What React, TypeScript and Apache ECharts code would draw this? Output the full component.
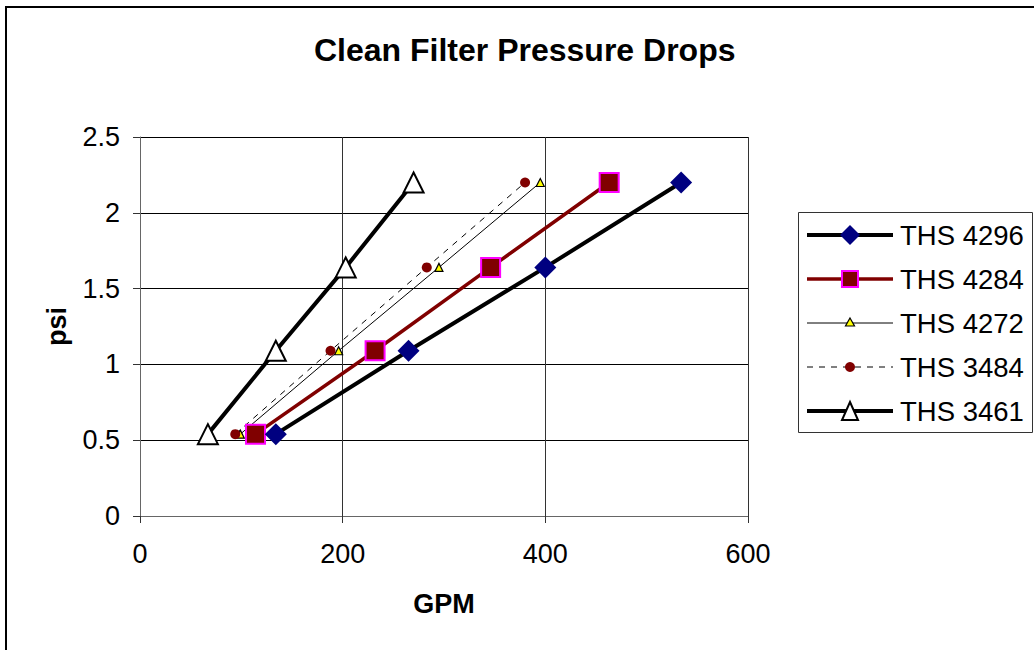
import React, { useEffect, useRef } from "react";
import * as echarts from "echarts";

const seriesNames = ["THS 4296", "THS 4284", "THS 4272", "THS 3484", "THS 3461"];
const psi = [0.54, 1.09, 1.64, 2.2];
const gpm4296 = [134, 265, 400, 534];
const gpm4284 = [114, 232, 346, 463];
const gpm4272 = [99, 196, 295, 395];
const gpm3484 = [94, 188, 283, 380];
const gpm3461 = [67, 134, 203, 270];
const xTicks = [0, 200, 400, 600];
const yTicks = [0, 0.5, 1, 1.5, 2, 2.5];

const pairs = (xs: number[]) => xs.map((x, i) => [x, psi[i]]);

// legend icon geometry (not data)
const LX0 = 807;
const LX1 = 893;
const LCX = 850;
const rowY = (i: number) => 235 + 44 * i;

function legendIcons() {
  const els: any[] = [];
  let y = rowY(0);
  els.push({ type: "line", shape: { x1: LX0, y1: y, x2: LX1, y2: y }, style: { stroke: "#000", lineWidth: 4 } });
  els.push({ type: "polygon", shape: { points: [[LCX, y - 10], [LCX + 10, y], [LCX, y + 10], [LCX - 10, y]] }, style: { fill: "#000080" } });
  y = rowY(1);
  els.push({ type: "line", shape: { x1: LX0, y1: y, x2: LX1, y2: y }, style: { stroke: "#800000", lineWidth: 3.5 } });
  els.push({ type: "rect", shape: { x: LCX - 8, y: y - 8, width: 16, height: 16 }, style: { fill: "#800000", stroke: "#ff00ff", lineWidth: 2 } });
  y = rowY(2);
  els.push({ type: "line", shape: { x1: LX0, y1: y, x2: LX1, y2: y }, style: { stroke: "#000", lineWidth: 1 } });
  els.push({ type: "polygon", shape: { points: [[LCX, y - 5], [LCX + 4.5, y + 3], [LCX - 4.5, y + 3]] }, style: { fill: "#ffff00", stroke: "#000", lineWidth: 1.2 } });
  y = rowY(3);
  els.push({ type: "line", shape: { x1: LX0, y1: y, x2: LX1, y2: y }, style: { stroke: "#000", lineWidth: 1, lineDash: [6, 6] } });
  els.push({ type: "circle", shape: { cx: LCX, cy: y, r: 5 }, style: { fill: "#800000" } });
  y = rowY(4);
  els.push({ type: "line", shape: { x1: LX0, y1: y, x2: LX1, y2: y }, style: { stroke: "#000", lineWidth: 4 } });
  els.push({ type: "polygon", shape: { points: [[LCX, y - 9], [LCX + 8, y + 9], [LCX - 8, y + 9]] }, style: { fill: "#fff", stroke: "#000", lineWidth: 2 } });
  return els.map((e) => ({ ...e, silent: true, z: 10 }));
}

export default function App() {
  const ref = useRef<HTMLDivElement>(null);
  useEffect(() => {
    document.body.style.margin = "0";
    const chart = echarts.init(ref.current!, null, { renderer: "svg" });
    const font = "'Liberation Sans', Arial, sans-serif";
    chart.setOption({
      animation: false,
      backgroundColor: "#fff",
      textStyle: { fontFamily: font },
      title: {
        text: "Clean Filter Pressure Drops",
        left: 314,
        top: 32,
        padding: 0,
        textStyle: { fontSize: 32, fontWeight: "bold", color: "#000", fontFamily: font, lineHeight: 36 },
      },
      graphic: [
        {
          type: "rect",
          shape: { x: 6, y: 7, width: 1040, height: 660 },
          style: { fill: "none", stroke: "#000", lineWidth: 2 },
          silent: true,
        },
        {
          type: "rect",
          shape: { x: 798.5, y: 212.5, width: 234, height: 220 },
          style: { fill: "none", stroke: "#333", lineWidth: 1 },
          silent: true,
        },
        ...legendIcons(),
      ],
      legend: {
        data: seriesNames.map((n) => ({
          name: n,
          icon: "rect",
          itemStyle: { color: "rgba(0,0,0,0)", borderWidth: 0 },
        })),
        orient: "vertical",
        left: LX0,
        top: 220,
        padding: 0,
        itemWidth: 86,
        itemHeight: 16,
        itemGap: 14,
        textStyle: { fontSize: 27.5, color: "#000", fontFamily: font, lineHeight: 30, padding: [0, 0, 0, 2] },
      },
      grid: { left: 140, top: 137, width: 608, height: 379, containLabel: false },
      xAxis: {
        type: "value",
        min: xTicks[0],
        max: xTicks[xTicks.length - 1],
        interval: 200,
        name: "GPM",
        nameLocation: "middle",
        nameGap: 74,
        nameTextStyle: { fontSize: 27, fontWeight: "bold", color: "#000", fontFamily: font },
        axisLine: { show: true, lineStyle: { color: "#666", width: 1 } },
        axisTick: { show: true, inside: false, length: 7, lineStyle: { color: "#333" } },
        axisLabel: { fontSize: 27, color: "#000", margin: 24, fontFamily: font },
        splitLine: { show: true, lineStyle: { color: "#333", width: 1 } },
      },
      yAxis: {
        type: "value",
        min: yTicks[0],
        max: yTicks[yTicks.length - 1],
        interval: 0.5,
        name: "psi",
        nameLocation: "middle",
        nameGap: 70,
        nameTextStyle: { fontSize: 27, fontWeight: "bold", color: "#000", fontFamily: font },
        axisLine: { show: true, lineStyle: { color: "#666", width: 1 } },
        axisTick: { show: true, inside: false, length: 7, lineStyle: { color: "#333" } },
        axisLabel: { fontSize: 27, color: "#000", margin: 20, fontFamily: font },
        splitLine: { show: true, lineStyle: { color: "#000", width: 1 } },
      },
      series: [
        {
          name: seriesNames[0],
          type: "line",
          data: pairs(gpm4296),
          symbol: "diamond",
          symbolSize: 22,
          itemStyle: { color: "#000080", borderColor: "#000080", borderWidth: 0 },
          lineStyle: { color: "#000", width: 4 },
          z: 5,
        },
        {
          name: seriesNames[1],
          type: "line",
          data: pairs(gpm4284),
          symbol: "rect",
          symbolSize: 19,
          itemStyle: { color: "#800000", borderColor: "#ff00ff", borderWidth: 2 },
          lineStyle: { color: "#800000", width: 3.5 },
          z: 4,
        },
        {
          name: seriesNames[2],
          type: "line",
          data: pairs(gpm4272),
          symbol: "triangle",
          symbolSize: 8,
          itemStyle: { color: "#ffff00", borderColor: "#000", borderWidth: 1.2 },
          lineStyle: { color: "#000", width: 1 },
          z: 3,
        },
        {
          name: seriesNames[3],
          type: "line",
          data: pairs(gpm3484),
          symbol: "circle",
          symbolSize: 10,
          itemStyle: { color: "#800000", borderWidth: 0 },
          lineStyle: { color: "#000", width: 1, type: [6, 6] },
          z: 3,
        },
        {
          name: seriesNames[4],
          type: "line",
          data: pairs(gpm3461),
          symbol: "triangle",
          symbolSize: 20,
          itemStyle: { color: "#fff", borderColor: "#000", borderWidth: 2 },
          lineStyle: { color: "#000", width: 4 },
          z: 3,
        },
      ],
    });
    return () => chart.dispose();
  }, []);
  return <div ref={ref} style={{ width: 1034, height: 650 }} />;
}
